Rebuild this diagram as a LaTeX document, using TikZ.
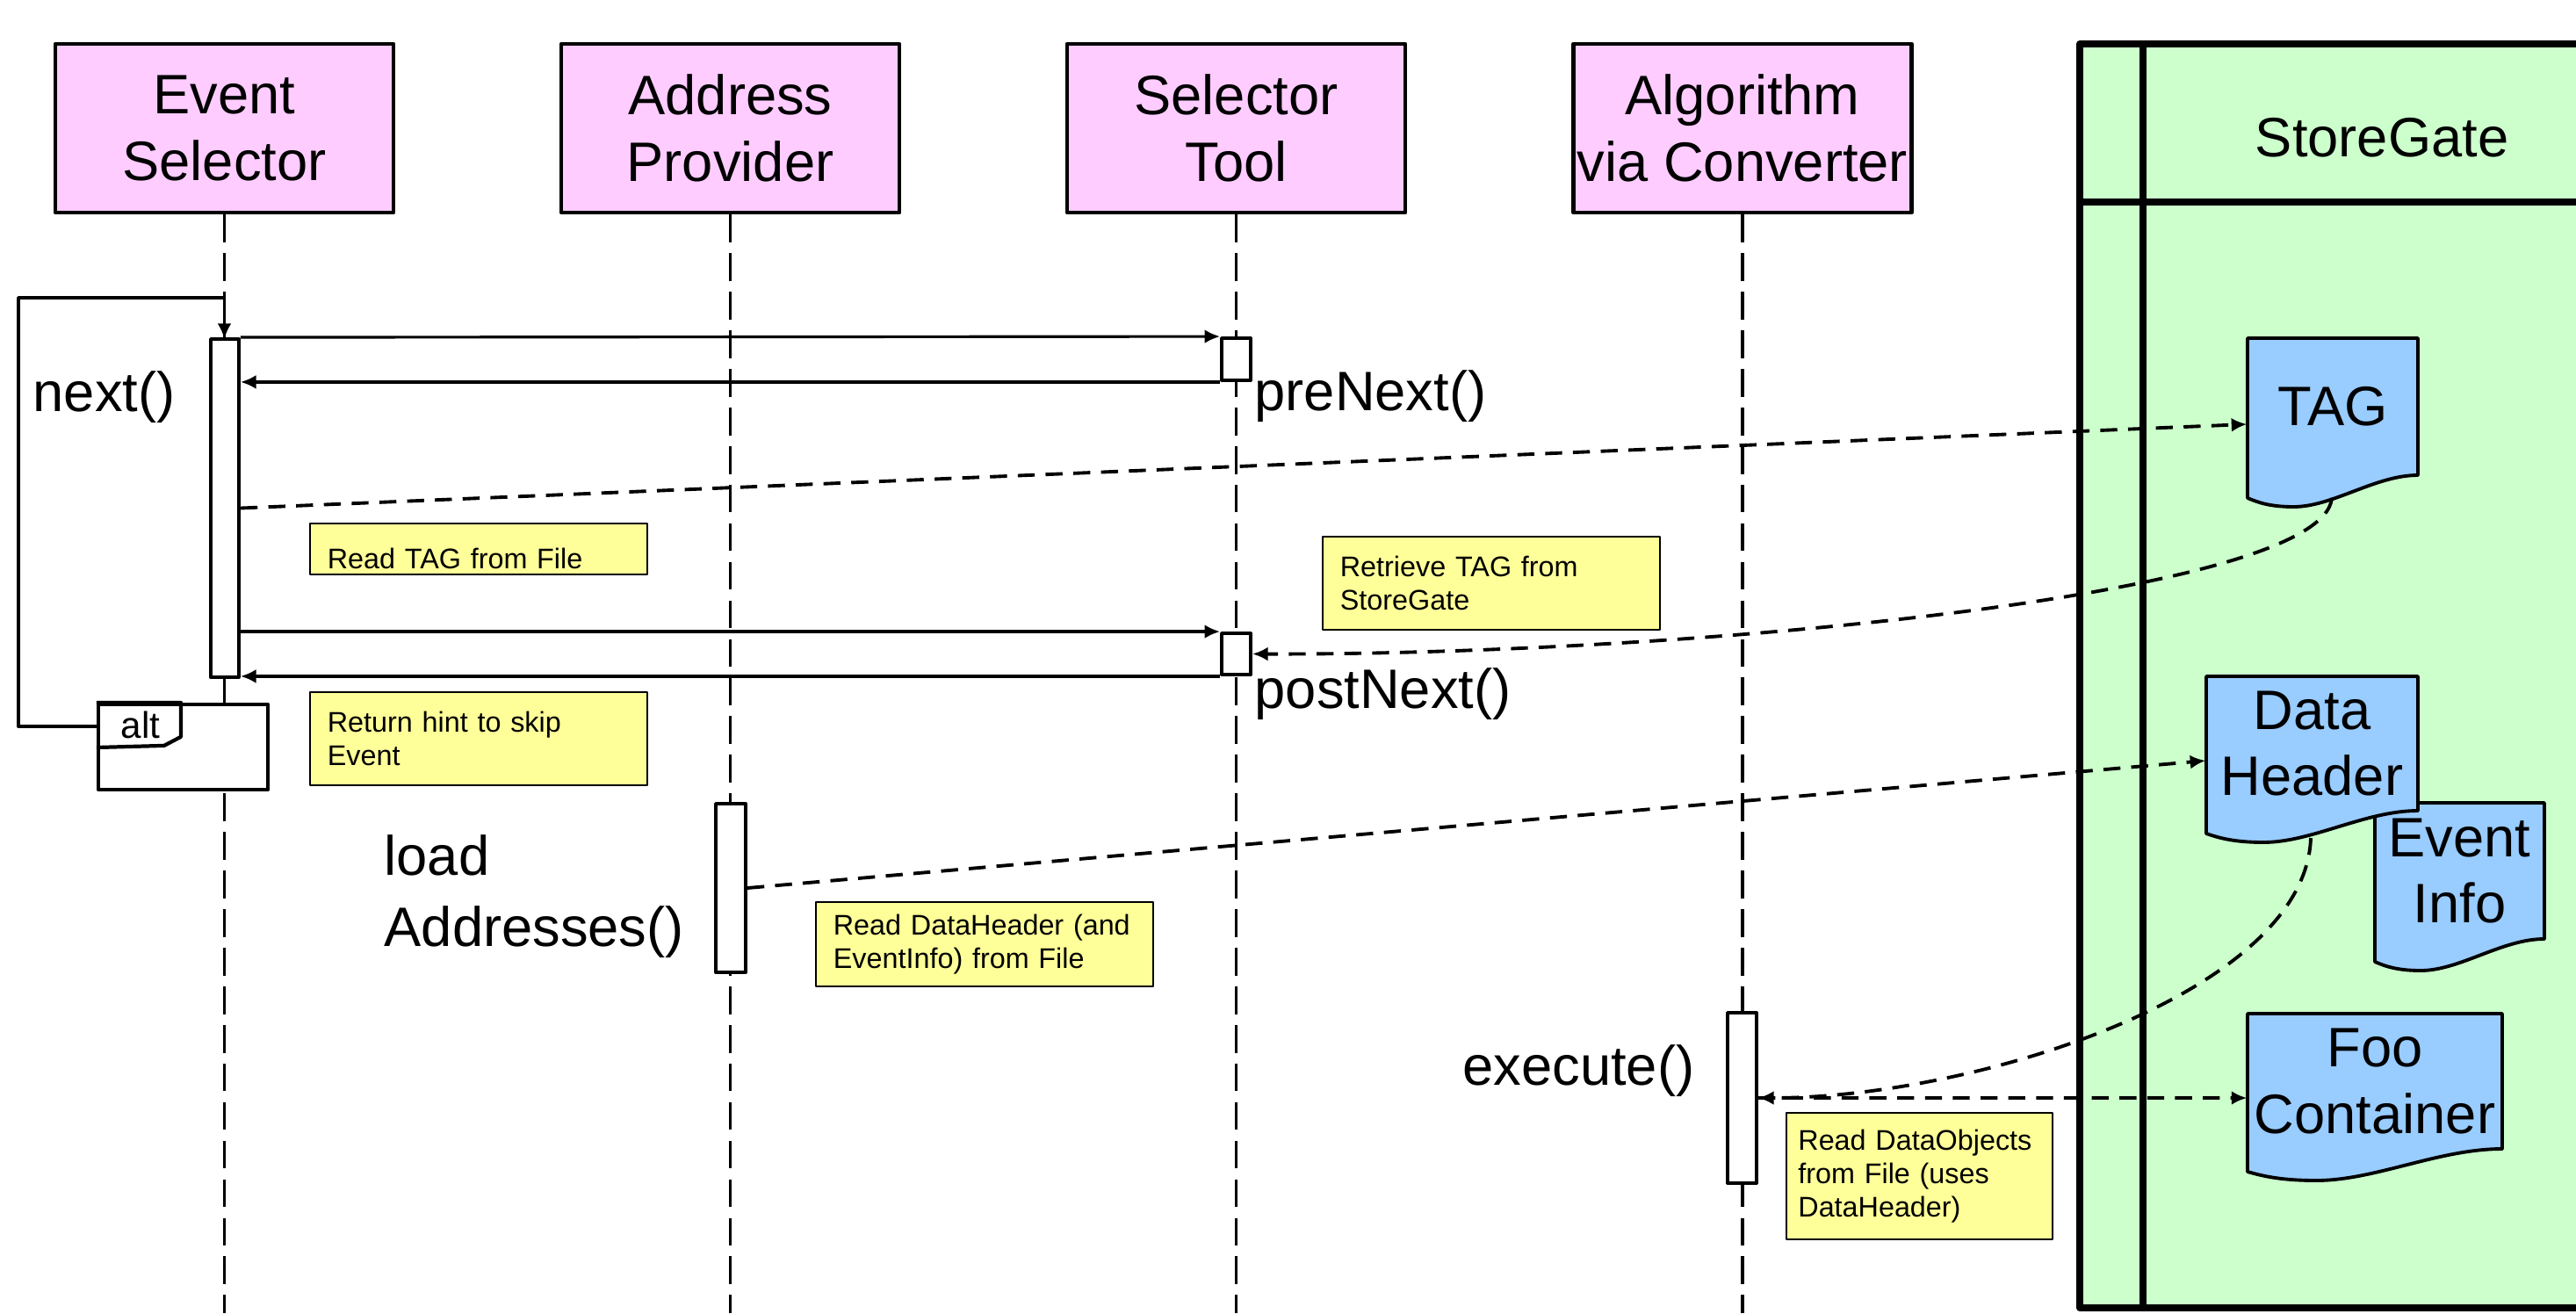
\documentclass[tikz,border=0pt]{standalone}
\usepackage{fontspec}
\setmainfont{Liberation Sans}
\usetikzlibrary{arrows.meta}

\definecolor{hdrpink}{HTML}{FFCCFF}
\definecolor{sggreen}{HTML}{CCFFCC}
\definecolor{docblue}{HTML}{99CCFF}
\definecolor{noteyellow}{HTML}{FFFF99}

\tikzset{
  hdr/.style={draw, fill=hdrpink, line width=1.3pt, minimum width=3.85cm, minimum height=1.92cm,
    inner sep=0pt, align=center, font=\fontsize{18pt}{21.6pt}\selectfont},
  lifeline/.style={line width=1pt, dash pattern=on 9pt off 3.5pt},
  act/.style={draw, fill=white, line width=1.1pt, minimum width=0.33cm, inner sep=0pt},
  msg/.style={line width=0.9pt, -{Latex[length=5pt,width=4.5pt]}},
  dmsg/.style={msg, line width=1.1pt, dash pattern=on 5.5pt off 3.5pt},
  callname/.style={inner sep=0pt, font=\fontsize{18pt}{23pt}\selectfont},
  note/.style={draw, fill=noteyellow, line width=0.5pt, anchor=north west, inner xsep=0.2cm,
    inner ysep=0pt, align=left, font=\fontsize{9.2pt}{10.8pt}\selectfont},
  doc/.style={draw, fill=docblue, line width=1.1pt},
  doctext/.style={inner sep=0pt, align=center, font=\fontsize{18pt}{21.6pt}\selectfont},
}

% data object with a wavy lower edge: name, left, top, right, right bottom, text
\newcommand{\docnode}[6]{%
  \filldraw[doc] (#2,#3) -- (#4,#3) -- (#4,#5)
    .. controls ({#4-0.25*(#4-#2)},#5) and ({#2+0.5*(#4-#2)},{#5-0.36}) .. ({#2+0.27*(#4-#2)},{#5-0.36})
    .. controls ({#2+0.12*(#4-#2)},{#5-0.36}) and ({#2+0.05*(#4-#2)},{#5-0.3}) .. (#2,{#5-0.26}) -- cycle;
  \node[doctext, minimum width={(#4-#2)*1cm}] (#1) at ({(#2+#4)/2},{(#3+#5)/2}) {#6};%
}

\begin{document}
\begin{tikzpicture}[line join=round]
  \useasboundingbox (0,0) rectangle (29.33,-14.95);
  \clip (0,0) rectangle (29.33,-14.95);
  \coordinate (bot) at (0,-14.95);

  % StoreGate frame
  \filldraw[fill=sggreen, line width=2.3pt] (23.68,-0.50) rectangle (30.5,-14.89);
  \draw[line width=2.3pt] (24.40,-0.50) -- (24.40,-14.89);
  \draw[line width=2.3pt] (23.68,-2.30) -- (30.5,-2.30);
  \node[doctext] (sg) at (27.12,-1.57) {StoreGate};

  % objects
  \node[hdr] (es) at (2.555,-1.46) {Event\\Selector};
  \node[hdr] (ap) at (8.315,-1.46) {Address\\Provider};
  \node[hdr] (st) at (14.075,-1.46) {Selector\\Tool};
  \node[hdr] (ac) at (19.84,-1.46) {Algorithm\\via Converter};

  % lifelines
  \draw[lifeline] (es.south) -- (es.south |- bot);
  \draw[lifeline] (ap.south) -- (ap.south |- bot);
  \draw[lifeline] (st.south) -- (st.south |- bot);
  \draw[lifeline] (ac.south) -- (ac.south |- bot);

  % alt fragment and loop
  \node[draw, fill=white, line width=1.2pt, minimum width=1.93cm, minimum height=0.97cm, inner sep=0pt] (altBox) at (2.085,-8.505) {};
  \draw[line width=1.2pt] (altBox.north west) -- ++(0.96,0) -- ++(0,-0.39) -- ++(-0.19,-0.10) -- (altBox.north west |- 0,-8.51);
  \node[inner sep=0pt, font=\fontsize{12pt}{14pt}\selectfont] (altLbl) at (1.60,-8.25) {alt};
  \coordinate (loopTop) at (0.21,-3.39);
  \draw[msg, line width=1.1pt] (altBox.west |- 0,-8.27) -| (loopTop) -| (es.south |- 0,-3.86);

  % activations
  \node[act, minimum width=0.32cm, minimum height=3.85cm] (esAct) at (2.56,-5.785) {};
  \node[act, minimum height=0.48cm] (stAct1) at (14.075,-4.09) {};
  \node[act, minimum height=0.47cm] (stAct2) at (14.075,-7.445) {};
  \node[act, minimum width=0.34cm, minimum height=1.92cm] (apAct) at (8.32,-10.11) {};
  \node[act, minimum height=1.94cm] (acAct) at (19.835,-12.50) {};

  % calls and returns
  \draw[msg] (esAct.north east) -- (stAct1.north west);
  \draw[msg] (stAct1.south west) -- (stAct1.south west -| esAct.east);
  \draw[msg] (stAct2.north west -| esAct.east) -- (stAct2.north west);
  \draw[msg] (stAct2.south west) -- (stAct2.south west -| esAct.east);

  % notes
  \node[note, text width=3.44cm, minimum height=0.58cm, text height=13pt] (readTag) at (3.52,-5.95) {Read TAG from File};
  \node[note, text width=3.44cm, minimum height=1.06cm] (hint) at (3.52,-7.87) {Return hint to skip\\Event};
  \node[note, text width=3.44cm, minimum height=1.06cm] (retr) at (15.05,-6.10) {Retrieve TAG from\\StoreGate};
  \node[note, text width=3.44cm, minimum height=0.96cm] (readDh) at (9.28,-10.26) {Read DataHeader (and\\EventInfo) from File};
  \node[note, text width=2.76cm, inner xsep=0.135cm, minimum height=1.44cm] (readObj) at (20.33,-12.66) {Read DataObjects\\from File (uses\\DataHeader)};

  % data objects in StoreGate
  \docnode{tag}{25.59}{-3.85}{27.53}{-5.41}{TAG}
  \docnode{evtInfo}{27.04}{-9.14}{28.97}{-10.69}{Event\\Info}
  \docnode{dataHdr}{25.12}{-7.70}{27.53}{-9.23}{Data\\Header}
  \docnode{foo}{25.59}{-11.54}{28.49}{-13.08}{Foo\\Container}
  \coordinate (tagBot) at (26.55,-5.67);
  \coordinate (dhBot) at (26.31,-9.54);

  % data flow
  \draw[dmsg] (esAct.east) -- ([yshift=-0.2cm]tag.west);
  \draw[dmsg] (tagBot) .. controls (26.45,-6.8) and (19.0,-7.46) .. (stAct2.east);
  \draw[dmsg] (apAct.east) -- ([yshift=-0.195cm]dataHdr.west);
  \draw[dmsg] (dhBot) .. controls (26.25,-11.3) and (22.5,-12.5) .. (acAct.east);
  \draw[dmsg] (acAct.east) -- ([yshift=-0.19cm]foo.west);

  % method names
  \node[callname, anchor=base west] (nextLbl) at (0.37,-4.68) {next()};
  \node[callname, anchor=base west] (preLbl) at (14.28,-4.67) {preNext()};
  \node[callname, anchor=base west] (postLbl) at (14.28,-8.06) {postNext()};
  \node[callname, anchor=base west, align=left] (loadLbl) at (4.37,-10.77) {load\\Addresses()};
  \node[callname, anchor=base east] (execLbl) at (19.30,-12.35) {execute()};
\end{tikzpicture}
\end{document}
